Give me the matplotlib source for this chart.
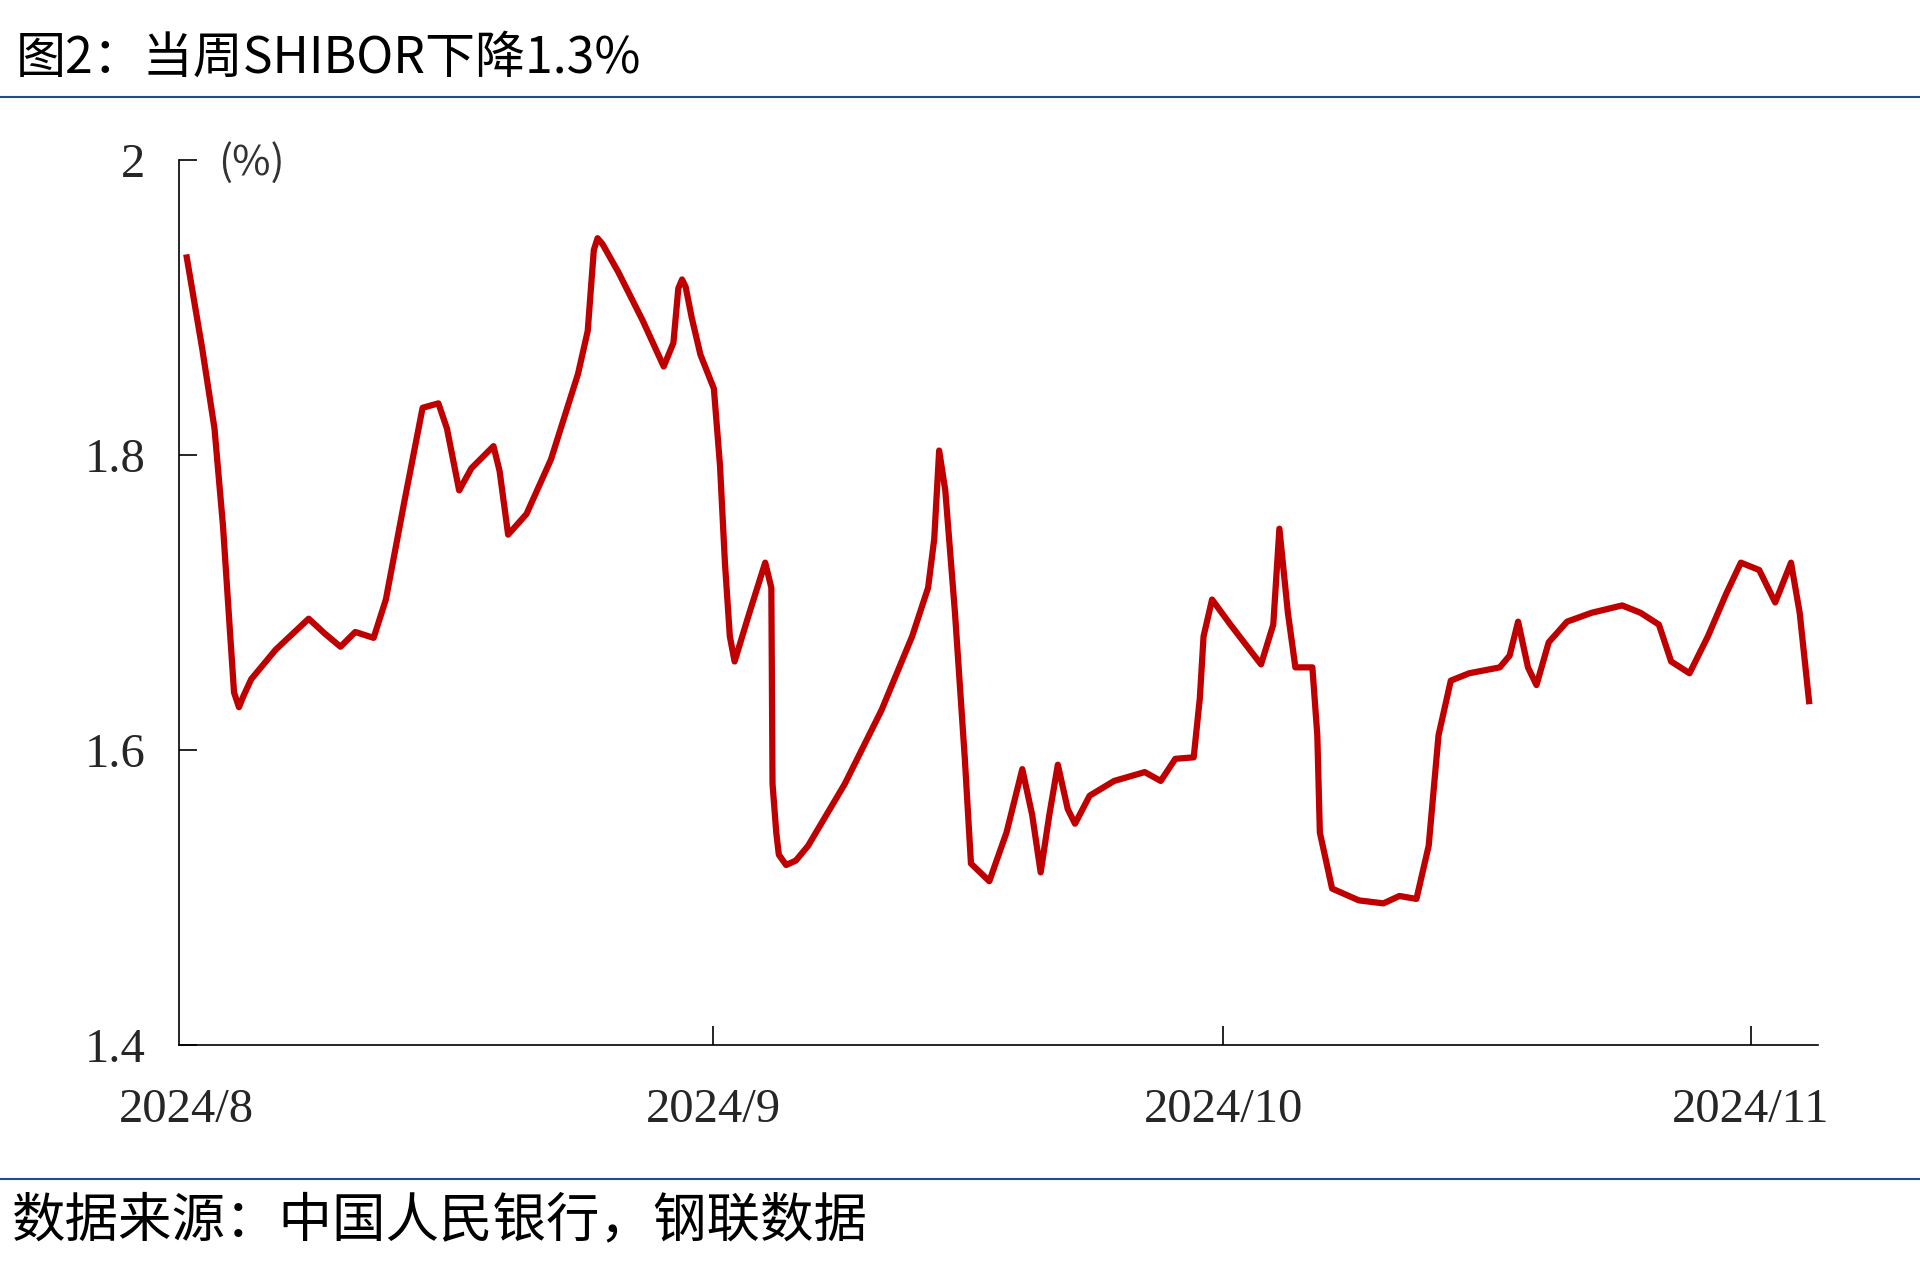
import matplotlib
matplotlib.use("Agg")
import matplotlib.pyplot as plt
from matplotlib.lines import Line2D

# days since 2024-08-01 and SHIBOR level (%)
days = [
    0.0, 0.94, 1.66, 2.16, 2.59, 2.81, 3.10, 3.38, 3.82, 5.26, 7.20, 8.14, 9.07, 9.94,
    11.02, 11.74, 12.82, 13.90, 14.83, 15.33, 16.05, 16.77, 18.07, 18.43,
    18.93, 20.01, 21.45, 23.04, 23.61, 23.97, 24.19, 24.48, 25.41, 26.85, 28.08, 28.65,
    28.94, 29.16, 29.37, 29.73, 30.24, 31.03, 31.39, 31.68, 31.97, 32.25, 33.12, 34.05,
    34.41, 34.48, 34.70, 34.85, 35.28, 35.85, 36.57, 38.73, 40.89, 42.69, 43.63, 43.99,
    44.28, 44.64, 45.21, 45.79, 46.15, 47.23, 48.24, 49.17, 49.75, 50.25,
    50.76, 51.26, 51.84, 52.27, 53.13, 54.57, 56.37, 57.31, 58.17, 59.25,
    59.61, 59.83, 60.33, 61.41, 63.21, 63.93, 64.29, 64.79, 65.23, 66.23,
    66.52, 66.67, 67.39, 68.97, 70.41, 71.35, 72.35, 73.07, 73.65, 74.37,
    75.45, 77.25, 77.83, 78.33, 78.91, 79.41, 80.13, 81.21, 82.65, 84.45,
    85.53, 86.61, 87.33, 88.41, 89.49, 90.57, 91.43, 92.51, 93.45, 94.38,
    94.89, 95.46,
]
rate = [
    1.936, 1.872, 1.818, 1.752, 1.677, 1.639, 1.629, 1.637, 1.648, 1.668, 1.689, 1.679, 1.670, 1.680,
    1.676, 1.702, 1.768, 1.832, 1.835, 1.818, 1.776, 1.791, 1.806, 1.789,
    1.746, 1.760, 1.797, 1.855, 1.884, 1.939, 1.947, 1.943, 1.924, 1.891, 1.860, 1.876,
    1.913, 1.919, 1.914, 1.893, 1.868, 1.845, 1.793, 1.727, 1.677, 1.660, 1.693, 1.727,
    1.710, 1.577, 1.544, 1.529, 1.522, 1.525, 1.535, 1.577, 1.627, 1.677, 1.710, 1.743,
    1.803, 1.776, 1.693, 1.594, 1.523, 1.511, 1.544, 1.587, 1.556, 1.517,
    1.556, 1.590, 1.560, 1.550, 1.569, 1.579, 1.585, 1.579, 1.594, 1.595,
    1.635, 1.677, 1.702, 1.685, 1.658, 1.685, 1.750, 1.693, 1.656, 1.656,
    1.610, 1.544, 1.506, 1.498, 1.496, 1.501, 1.499, 1.535, 1.610, 1.647,
    1.652, 1.656, 1.664, 1.687, 1.656, 1.644, 1.673, 1.687, 1.693, 1.698,
    1.693, 1.685, 1.660, 1.652, 1.677, 1.706, 1.727, 1.722, 1.700, 1.727,
    1.693, 1.631,
]
month_ticks = [0, 31, 61, 92]
month_labels = ["2024/8", "2024/9", "2024/10", "2024/11"]
y_ticks = [1.4, 1.6, 1.8, 2.0]
y_labels = ["1.4", "1.6", "1.8", "2"]

title = "图2：当周SHIBOR下降1.3%"
source = "数据来源：中国人民银行，钢联数据"

cjk = ["Noto Sans CJK SC", "DejaVu Sans"]
serif = ["Liberation Serif", "DejaVu Serif"]
navy = "#1f4e8c"
text_c = "#262626"

fig = plt.figure(figsize=(19.2, 12.79), dpi=100)
ax = fig.add_axes([0.0932, 0.1830, 0.8537, 0.6919])

ax.plot(days, rate, color="#c00000", lw=4.5, solid_joinstyle="round",
        solid_capstyle="butt")

ax.set_xlim(-0.43, 95.97)
ax.set_ylim(1.4, 2.0)
ax.set_xticks(month_ticks)
ax.set_xticklabels(month_labels, family=serif, fontsize=35, color=text_c)
ax.set_yticks(y_ticks)
ax.set_yticklabels(y_labels, family=serif, fontsize=35, color=text_c)
ax.tick_params(axis="x", direction="in", length=14, width=1.2, pad=31)
ax.tick_params(axis="y", direction="in", length=13, width=1.2, pad=24)
ax.xaxis.get_major_ticks()[0].tick1line.set_visible(False)

for side in ("top", "right"):
    ax.spines[side].set_visible(False)
for side in ("left", "bottom"):
    ax.spines[side].set_linewidth(1.2)

ax.text(0.044, 0.997, "(%)", transform=ax.transAxes, fontsize=30,
        family=cjk, color="#333333", ha="center", va="center")

fig.text(0.008, 0.954, title, family=cjk, fontsize=36, ha="left", va="center")
fig.text(0.006, 0.0455, source, family=cjk, fontsize=38.5, ha="left", va="center")

fig.add_artist(Line2D([0, 1], [0.9242, 0.9242], color=navy, lw=1.5))
fig.add_artist(Line2D([0, 1], [0.0782, 0.0782], color=navy, lw=1.5))

fig.savefig("out.png", dpi=100, facecolor="white")
